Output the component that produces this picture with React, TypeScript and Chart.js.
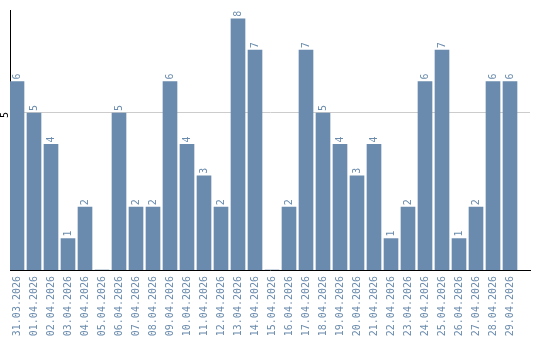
import React, { useEffect, useRef } from "react";
import { Chart, registerables } from "chart.js";

Chart.register(...registerables);

const categories: string[] = [
  "31.03.2026", "01.04.2026", "02.04.2026", "03.04.2026", "04.04.2026",
  "05.04.2026", "06.04.2026", "07.04.2026", "08.04.2026", "09.04.2026",
  "10.04.2026", "11.04.2026", "12.04.2026", "13.04.2026", "14.04.2026",
  "15.04.2026", "16.04.2026", "17.04.2026", "18.04.2026", "19.04.2026",
  "20.04.2026", "21.04.2026", "22.04.2026", "23.04.2026", "24.04.2026",
  "25.04.2026", "26.04.2026", "27.04.2026", "28.04.2026", "29.04.2026",
];
const values: number[] = [
  6, 5, 4, 1, 2, 0, 5, 2, 2, 6, 4, 3, 2, 8, 7,
  0, 2, 7, 5, 4, 3, 4, 1, 2, 6, 7, 1, 2, 6, 6,
];
const yTicks: number[] = [5];

const BAR = "#6a8bad";
const FONT = "DejaVu Sans Mono";

export default function App() {
  const ref = useRef<HTMLCanvasElement | null>(null);
  useEffect(() => {
    document.body.style.margin = "0";
    const canvas = ref.current;
    if (!canvas) return;
    const labelsPlugin = {
      id: "valueLabels",
      afterDatasetsDraw(chart: any) {
        const ctx = chart.ctx;
        const meta = chart.getDatasetMeta(0);
        ctx.save();
        ctx.fillStyle = BAR;
        ctx.font = `10px "${FONT}"`;
        ctx.textAlign = "left";
        ctx.textBaseline = "middle";
        meta.data.forEach((bar: any, i: number) => {
          const v = values[i];
          if (!v) return;
          ctx.save();
          ctx.translate(bar.x, bar.y - 2);
          ctx.rotate(-Math.PI / 2);
          ctx.fillText(String(v), 0, 0);
          ctx.restore();
        });
        const ys = chart.scales.y;
        ctx.fillStyle = "#000";
        ctx.textAlign = "center";
        yTicks.forEach((t) => {
          ctx.save();
          ctx.translate(chart.chartArea.left - 5, ys.getPixelForValue(t) + 2);
          ctx.rotate(-Math.PI / 2);
          ctx.fillText(String(t), 0, 0);
          ctx.restore();
        });
        ctx.restore();
      },
    };
    const xMin = -7 / 17;
    const xMax = xMin + 520 / 17;
    const chart = new Chart(canvas, {
      type: "bar",
      data: {
        datasets: [
          {
            data: values.map((v, i) => ({ x: i, y: v })),
            backgroundColor: BAR,
            barThickness: 14,
          },
        ],
      },
      options: {
        animation: false,
        responsive: false,
        layout: { padding: { left: 10, top: 10, right: 10, bottom: 4 } },
        plugins: { legend: { display: false }, tooltip: { enabled: false } },
        scales: {
          x: {
            type: "linear",
            offset: false,
            min: xMin,
            max: xMax,
            afterBuildTicks: (s: any) => {
              s.ticks = categories.map((_, i) => ({ value: i }));
            },
            afterFit: (s: any) => {
              s.height = 66;
            },
            grid: { display: false, drawTicks: false, offset: false },
            border: { display: true, color: "#000", width: 1 },
            ticks: {
              minRotation: 90,
              maxRotation: 90,
              autoSkip: false,
              padding: 6,
              color: BAR,
              font: { family: FONT, size: 10 },
              callback: (v: any) => categories[v as number],
            },
          },
          y: {
            min: 0,
            max: 8.28,
            afterBuildTicks: (s: any) => {
              s.ticks = yTicks.map((v) => ({ value: v }));
            },
            afterFit: (s: any) => {
              s.width = 0;
            },
            grid: { color: "#cccccc", drawTicks: false },
            border: { display: true, color: "#000", width: 1 },
            ticks: { display: false },
          },
        },
      },
      plugins: [labelsPlugin],
    } as any);
    return () => chart.destroy();
  }, []);
  return (
    <div style={{ width: 540, height: 340 }}>
      <canvas ref={ref} width={540} height={340} style={{ width: 540, height: 340 }} />
    </div>
  );
}
